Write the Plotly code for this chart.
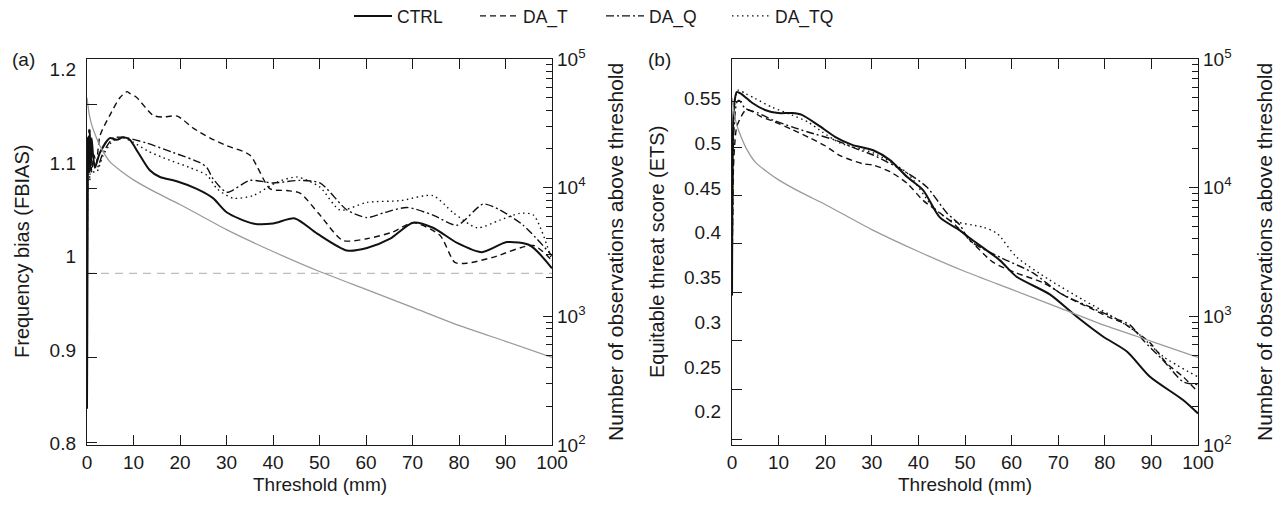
import plotly.graph_objects as go

# ---------------- data ----------------
# Panel (a): frequency bias vs threshold (mm)
ctrl_a_x = [0, 0.2, 0.4, 0.6, 0.8, 1.0, 1.3, 1.7, 2.8, 4.9, 6.4, 7.8, 9.2, 11, 13.5, 15.7, 19.3, 23.6, 27.1, 30.1,
            35.7, 40, 44.7, 49.5, 55.9, 60.2, 65.2, 70.1, 74.4, 79.6, 84.9, 90.3, 95.3, 100]
ctrl_a_y = [0.84, 1.16, 1.12, 1.17, 1.13, 1.16, 1.14, 1.125, 1.143, 1.160, 1.158, 1.161, 1.158, 1.143, 1.122, 1.114,
            1.109, 1.100, 1.089, 1.072, 1.059, 1.059, 1.065, 1.047, 1.027, 1.030, 1.041, 1.060, 1.054, 1.036, 1.025,
            1.037, 1.033, 1.006]

dat_a_x = [0, 0.2, 0.4, 0.6, 0.8, 1.0, 1.5, 2.0, 2.8, 4.9, 7.1, 8.6, 9.2, 10.7, 14.2, 16.3, 19.4, 22.8, 26.5, 30.1,
           35, 39.4, 43, 45.8, 50.1, 55, 60.2, 65.8, 70.1, 75.9, 79.1, 81.7, 87.3, 96, 100]
dat_a_y = [0.86, 1.14, 1.17, 1.12, 1.15, 1.12, 1.14, 1.13, 1.163, 1.187, 1.208, 1.215, 1.213, 1.208, 1.187, 1.185,
           1.186, 1.172, 1.160, 1.151, 1.140, 1.100, 1.098, 1.095, 1.069, 1.039, 1.041, 1.049, 1.060, 1.045, 1.013,
           1.012, 1.019, 1.033, 1.015]

daq_a_x = [0, 0.2, 0.4, 0.6, 0.8, 1.0, 1.5, 2.1, 3.5, 5.6, 7.8, 12.9, 18.5, 24.3, 25.8, 27.1, 30.1, 35, 40, 45.8,
           50.1, 55.9, 60.2, 64, 68.8, 74.4, 79.6, 85.2, 88.8, 93.8, 100]
daq_a_y = [0.85, 1.15, 1.13, 1.16, 1.12, 1.14, 1.13, 1.124, 1.143, 1.160, 1.161, 1.154, 1.143, 1.131, 1.125, 1.112,
           1.096, 1.110, 1.107, 1.110, 1.107, 1.075, 1.066, 1.072, 1.078, 1.069, 1.057, 1.082, 1.075, 1.057, 1.021]

datq_a_x = [0, 0.2, 0.4, 0.6, 0.8, 1.0, 1.5, 2.1, 3.5, 5.6, 7.8, 10, 13, 16.3, 22.2, 25.8, 28, 31.4, 35.7, 40.9,
            45.2, 50.1, 54.4, 60.2, 67.3, 74.4, 78.7, 83.9, 88.8, 93.1, 96, 100]
datq_a_y = [0.85, 1.13, 1.16, 1.11, 1.15, 1.12, 1.12, 1.12, 1.14, 1.157, 1.160, 1.155, 1.145, 1.137, 1.125, 1.116,
            1.100, 1.089, 1.092, 1.108, 1.114, 1.102, 1.075, 1.084, 1.086, 1.092, 1.072, 1.054, 1.063, 1.071, 1.069,
            1.015]

# Panel (b): equitable threat score vs threshold (mm)
ctrl_b_x = [0, 0.3, 0.6, 1.0, 2.0, 2.8, 4.3, 7.1, 9.9, 12.9, 15, 18.5, 22.1, 25.8, 30.3, 33.9, 37.6, 41, 44.6, 48.9,
            51, 57.5, 61, 68.2, 74, 79.6, 84.8, 89.7, 96.8, 100]
ctrl_b_y = [0.33, 0.53, 0.548, 0.557, 0.555, 0.5515, 0.545, 0.537, 0.5335, 0.5335, 0.5315, 0.520, 0.507, 0.498,
            0.492, 0.481, 0.462, 0.4475, 0.417, 0.4025, 0.394, 0.369, 0.351, 0.331, 0.306, 0.284, 0.267, 0.239,
            0.213, 0.198]

dat_b_x = [0, 0.3, 0.6, 1.0, 2.0, 3.0, 4.5, 6, 9, 13, 17, 20, 23.2, 28, 30.3, 33.9, 37.6, 41, 44.6, 48, 51, 56, 61,
           66.8, 71.9, 76.8, 81.1, 84, 87, 89.7, 93.3, 96.8, 100]
dat_b_y = [0.33, 0.47, 0.50, 0.518, 0.53, 0.537, 0.535, 0.530, 0.524, 0.515, 0.505, 0.497, 0.486, 0.477, 0.4755,
           0.468, 0.455, 0.436, 0.422, 0.408, 0.392, 0.367, 0.355, 0.344, 0.328, 0.316, 0.305, 0.299, 0.288, 0.277,
           0.254, 0.239, 0.222]

daq_b_x = [0, 0.3, 0.6, 1.0, 1.5, 2.8, 5.6, 8.8, 12.9, 16.3, 22.1, 27, 30.3, 37.6, 41.8, 46.1, 48.9, 51, 57.5, 64.6,
           70.4, 76.8, 82.6, 85.4, 88.2, 92.5, 96.8, 100]
daq_b_y = [0.33, 0.50, 0.53, 0.545, 0.548, 0.539, 0.5336, 0.5257, 0.518, 0.5124, 0.5034, 0.493, 0.4867, 0.4666,
           0.451, 0.422, 0.4085, 0.391, 0.3726, 0.355, 0.3325, 0.317, 0.3035, 0.297, 0.280, 0.2575, 0.2335, 0.2303]

datq_b_x = [0, 0.3, 0.6, 1.3, 3, 4.9, 8.6, 12.9, 16.3, 19.5, 23.2, 30.3, 37.6, 43.1, 46.8, 53.9, 56.9, 61, 68.2,
            75.3, 81.1, 87, 92.5, 100]
datq_b_y = [0.33, 0.52, 0.545, 0.559, 0.555, 0.550, 0.540, 0.5313, 0.5235, 0.512, 0.500, 0.489, 0.4666, 0.4287,
            0.414, 0.406, 0.399, 0.373, 0.347, 0.325, 0.308, 0.288, 0.2617, 0.2388]

# Number of observations above threshold (right log axis, both panels)
obs_x = [0, 0.5, 1, 2, 3, 5, 7.5, 10, 15, 20, 30, 40, 50, 60, 70, 80, 90, 100]
obs_n = [50000, 36800, 30900, 24500, 20400, 15800, 13300, 11500, 9100, 7400, 4720, 3190, 2230, 1620, 1175, 850,
         640, 480]

threshold_ticks = [0, 10, 20, 30, 40, 50, 60, 70, 80, 90, 100]
fbias_labels = ["0.8", "0.9", "1", "1.1", "1.2"]
ets_labels = ["0.2", "0.25", "0.3", "0.35", "0.4", "0.45", "0.5", "0.55"]
series_names = ["CTRL", "DA_T", "DA_Q", "DA_TQ"]

# ---------------- layout helpers ----------------
W, H = 1275, 506
FONT = "Liberation Sans, Arial, Helvetica, sans-serif"
INK = "#1a1a1a"


def fx(px):
    return px / W


def fy(py):
    return 1 - py / H


styles = {
    "CTRL": dict(color="#111111", width=2.0, dash="solid"),
    "DA_T": dict(color="#111111", width=1.4, dash="6px,4px"),
    "DA_Q": dict(color="#111111", width=1.4, dash="8px,3px,2px,3px"),
    "DA_TQ": dict(color="#111111", width=1.4, dash="1.5px,3.5px"),
}

fig = go.Figure()

# panel (a)
for name, xs, ys in zip(series_names, [ctrl_a_x, dat_a_x, daq_a_x, datq_a_x],
                        [ctrl_a_y, dat_a_y, daq_a_y, datq_a_y]):
    fig.add_trace(go.Scatter(x=xs, y=ys, mode="lines", name=name, line=dict(shape="spline", smoothing=0.7,
                             **styles[name]), xaxis="x", yaxis="y", showlegend=True))
fig.add_trace(go.Scatter(x=obs_x, y=obs_n, mode="lines", line=dict(color="#9a9a9a", width=1.3, shape="spline",
                         smoothing=0.6), xaxis="x", yaxis="y2", showlegend=False, name="obs"))

# panel (b)
for name, xs, ys in zip(series_names, [ctrl_b_x, dat_b_x, daq_b_x, datq_b_x],
                        [ctrl_b_y, dat_b_y, daq_b_y, datq_b_y]):
    fig.add_trace(go.Scatter(x=xs, y=ys, mode="lines", name=name, line=dict(shape="spline", smoothing=0.7,
                             **styles[name]), xaxis="x2", yaxis="y3", showlegend=False))
fig.add_trace(go.Scatter(x=obs_x, y=obs_n, mode="lines", line=dict(color="#9a9a9a", width=1.3, shape="spline",
                         smoothing=0.6), xaxis="x2", yaxis="y4", showlegend=False, name="obs"))

# reference line FBIAS = 1
fig.add_shape(type="line", xref="x", yref="y", x0=0, x1=100, y0=1.0, y1=1.0,
              line=dict(color="#bdbdbd", width=1.3, dash="8px,6px"), layer="below")

tickfont = dict(family=FONT, size=19, color=INK)
common_x = dict(range=[0, 100], tickmode="array", tickvals=threshold_ticks, ticks="inside", ticklen=10,
                tickwidth=1.2, tickcolor=INK, showline=True, linecolor=INK, linewidth=1.4, mirror="ticks",
                showgrid=False, zeroline=False, tickfont=tickfont)

# left axis (a): labels placed as in the original, tick marks as minor ticks at 0.8 ... 1.2
fbias_label_pos = [0.7992, 0.9084, 1.0196, 1.1302, 1.2414]
fbias_tick_pos = [0.8, 0.9, 1.0, 1.1, 1.2]
# left axis (b)
ets_label_pos = [0.2, 0.25, 0.3, 0.35, 0.4, 0.45, 0.5, 0.55]
ets_tick_pos = [0.1695, 0.2243, 0.2790, 0.3326, 0.3873, 0.4420, 0.4956, 0.5459]

log_major = [100, 1000, 10000, 100000]
log_text = ["10<sup>2</sup>", "10<sup>3</sup>", "10<sup>4</sup>", "10<sup>5</sup>"]
log_minor = [m * d for d in (100, 1000, 10000) for m in range(2, 10)]

common_log = dict(type="log", range=[2, 5], side="right", tickmode="array", tickvals=log_major, ticktext=log_text,
                  ticks="inside", ticklen=9, tickwidth=1.2, tickcolor=INK, showline=True, linecolor=INK,
                  linewidth=1.4, showgrid=False, zeroline=False, tickfont=tickfont,
                  minor=dict(tickmode="array", tickvals=log_minor, ticks="inside", ticklen=6, tickwidth=1.0,
                             tickcolor=INK, showgrid=False))

ydom = [fy(445), fy(59)]

fig.update_layout(
    width=W, height=H, margin=dict(l=0, r=0, t=0, b=0, autoexpand=False),
    paper_bgcolor="white", plot_bgcolor="rgba(0,0,0,0)",
    font=dict(family=FONT, size=19, color=INK),
    xaxis=dict(domain=[fx(87), fx(552)], anchor="y", **common_x),
    xaxis2=dict(domain=[fx(732), fx(1198)], anchor="y3", **common_x),
    yaxis=dict(domain=ydom, anchor="x", range=[0.797, 1.2536], tickmode="array", tickvals=fbias_label_pos,
               ticktext=fbias_labels, ticks="inside", ticklen=0, showline=True, linecolor=INK, linewidth=1.4,
               showgrid=False, zeroline=False, tickfont=tickfont, ticklabelstandoff=6,
               minor=dict(tickmode="array", tickvals=fbias_tick_pos, ticks="inside", ticklen=10, tickwidth=1.2,
                          tickcolor=INK, showgrid=False)),
    yaxis2=dict(overlaying="y", anchor="x", **common_log),
    yaxis3=dict(domain=ydom, anchor="x2", range=[0.1628, 0.5939], tickmode="array", tickvals=ets_label_pos,
                ticktext=ets_labels, ticks="inside", ticklen=0, showline=True, linecolor=INK, linewidth=1.4,
                showgrid=False, zeroline=False, tickfont=tickfont, ticklabelstandoff=6,
                minor=dict(tickmode="array", tickvals=ets_tick_pos, ticks="inside", ticklen=10, tickwidth=1.2,
                           tickcolor=INK, showgrid=False)),
    yaxis4=dict(overlaying="y3", anchor="x2", **common_log),
    legend=dict(orientation="h", x=fx(349), y=fy(-2), xanchor="left", yanchor="top",
                font=dict(family=FONT, size=17.5, color=INK), entrywidth=73, entrywidthmode="pixels",
                itemwidth=38, bgcolor="rgba(0,0,0,0)", tracegroupgap=0),
    showlegend=True,
)

annots = [
    dict(text="(a)", x=fx(23), y=fy(59), size=19),
    dict(text="(b)", x=fx(659), y=fy(60), size=19),
    dict(text="Threshold (mm)", x=fx(320), y=fy(484), size=19),
    dict(text="Threshold (mm)", x=fx(965), y=fy(484), size=19),
    dict(text="Frequency bias (FBIAS)", x=fx(22), y=fy(252), textangle=-90, size=20),
    dict(text="Number of observations above threshold", x=fx(615), y=fy(252), textangle=-90, size=21),
    dict(text="Equitable threat score (ETS)", x=fx(657), y=fy(252), textangle=-90, size=20),
    dict(text="Number of observations above threshold", x=fx(1264), y=fy(252), textangle=-90, size=21),
]
for a in annots:
    size = a.pop("size")
    fig.add_annotation(xref="paper", yref="paper", showarrow=False, xanchor="center", yanchor="middle",
                       font=dict(family=FONT, size=size, color=INK), **a)

fig.write_html("out.html", config={"displayModeBar": False},
               post_script="document.body.style.margin='0';document.body.style.overflow='hidden';")
